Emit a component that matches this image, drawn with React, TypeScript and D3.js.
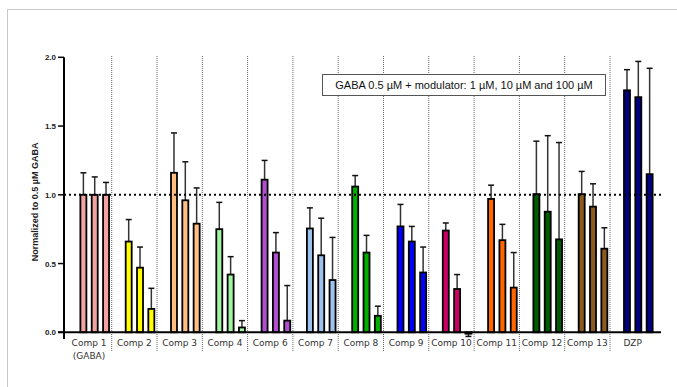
import React from "react";
import * as d3 from "d3";

// groups along the x axis (4 slots per group, first one left empty)
const groups = ["Comp 1", "Comp 2", "Comp 3", "Comp 4", "Comp 6", "Comp 7", "Comp 8", "Comp 9", "Comp 10", "Comp 11", "Comp 12", "Comp 13", "DZP"];
const subLabels = ["(GABA)", "", "", "", "", "", "", "", "", "", "", "", ""];
const colors = ["#f4a3a3", "#ffff00", "#ffbf80", "#a0f5a0", "#b050d0", "#9cc3ee", "#00b000", "#0000ff", "#cc0066", "#ff6600", "#005c00", "#8c5a1e", "#000080"];

// means at 1, 10 and 100 µM
const means = [
  [1.0, 1.0, 1.0],
  [0.66, 0.47, 0.17],
  [1.16, 0.96, 0.79],
  [0.75, 0.42, 0.035],
  [1.11, 0.58, 0.085],
  [0.755, 0.56, 0.38],
  [1.06, 0.58, 0.12],
  [0.77, 0.66, 0.435],
  [0.74, 0.315, -0.01],
  [0.97, 0.67, 0.325],
  [1.005, 0.877, 0.676],
  [1.005, 0.914, 0.608],
  [1.76, 1.71, 1.15],
];
// upper end of the error bars
const errTop = [
  [1.16, 1.13, 1.09],
  [0.82, 0.62, 0.32],
  [1.45, 1.24, 1.05],
  [0.945, 0.55, 0.085],
  [1.25, 0.725, 0.34],
  [0.905, 0.83, 0.69],
  [1.14, 0.705, 0.19],
  [0.93, 0.77, 0.62],
  [0.795, 0.42, -0.03],
  [1.07, 0.785, 0.58],
  [1.39, 1.43, 1.38],
  [1.17, 1.08, 0.76],
  [1.91, 1.97, 1.92],
];
const yTicks = [0, 0.5, 1, 1.5, 2];
const legendText = "GABA 0.5 µM + modulator: 1 µM, 10 µM and 100 µM";

export default function App() {
  const y = d3.scaleLinear().domain([0, 2]).range([332.3, 57.3]);
  const x = d3.scaleBand<string>().domain(groups).range([66.4, 655.3]);
  const slot = d3.scaleBand<number>().domain([0, 1, 2, 3]).range([0, x.bandwidth()]);
  const barW = 6;
  const capW = 6;

  return (
    <svg width={677} height={387} style={{ position: "absolute", left: 0, top: 0, background: "#fff" }}>
      <rect x={7.5} y={9.5} width={720} height={420} fill="none" stroke="#c8c8c8" />

      {/* group separators */}
      {groups.slice(1).map((g) => (
        <line key={g} x1={x(g)} x2={x(g)} y1={56} y2={352} stroke="#666" strokeWidth={1} strokeDasharray="1,1" />
      ))}

      {/* bars and error bars */}
      {groups.map((g, gi) =>
        means[gi].map((m, k) => {
          const cx = (x(g) as number) + (slot(k + 1) as number) + slot.bandwidth() / 2;
          const top = y(Math.max(m, 0));
          const bot = y(Math.min(m, 0));
          const e = y(errTop[gi][k]);
          return (
            <g key={g + k}>
              <line x1={cx} x2={cx} y1={m >= 0 ? top : bot} y2={e} stroke="#333" strokeWidth={1.5} />
              <line x1={cx - capW / 2} x2={cx + capW / 2} y1={e} y2={e} stroke="#111" strokeWidth={1.5} />
              <rect x={cx - barW / 2} y={top} width={barW} height={Math.max(bot - top, 1)} fill={colors[gi]} stroke="#000" strokeWidth={1.8} />
            </g>
          );
        })
      )}

      {/* reference line at 1.0 */}
      <line x1={64} x2={661} y1={y(1)} y2={y(1)} stroke="#000" strokeWidth={2} strokeDasharray="2,3" />

      {/* axes */}
      <line x1={64} x2={64} y1={y(2)} y2={339} stroke="#000" strokeWidth={2} />
      <line x1={58} x2={661} y1={y(0)} y2={y(0)} stroke="#000" strokeWidth={2} />
      {yTicks.map((t) => (
        <g key={t}>
          <line x1={58} x2={64} y1={y(t)} y2={y(t)} stroke="#000" strokeWidth={1.5} />
          <text x={56} y={y(t) + 3} textAnchor="end" fontFamily="Liberation Sans, Arial, sans-serif" fontWeight="bold" fontSize={8} fill="#222">
            {d3.format(".1f")(t)}
          </text>
        </g>
      ))}
      <text
        transform={`translate(38,${(y(0) + y(2)) / 2 + 7}) rotate(-90)`}
        textAnchor="middle"
        fontFamily="Liberation Sans, Arial, sans-serif"
        fontWeight="bold"
        fontSize={9}
        fill="#222"
      >
        Normalized to 0.5 µM GABA
      </text>

      {/* x labels */}
      {groups.map((g, gi) => (
        <g key={g} fontFamily="DejaVu Sans, sans-serif" fontSize={9} fill="#333" textAnchor="middle">
          <text x={(x(g) as number) + x.bandwidth() / 2} y={346}>{g}</text>
          {subLabels[gi] && <text x={(x(g) as number) + x.bandwidth() / 2} y={359}>{subLabels[gi]}</text>}
        </g>
      ))}

      {/* legend box */}
      <rect x={322.5} y={74.5} width={283} height={21} fill="#fff" stroke="#555" strokeWidth={1} />
      <text x={464} y={89} textAnchor="middle" fontFamily="Liberation Sans, Arial, sans-serif" fontSize={11} fill="#111">
        {legendText}
      </text>
    </svg>
  );
}
